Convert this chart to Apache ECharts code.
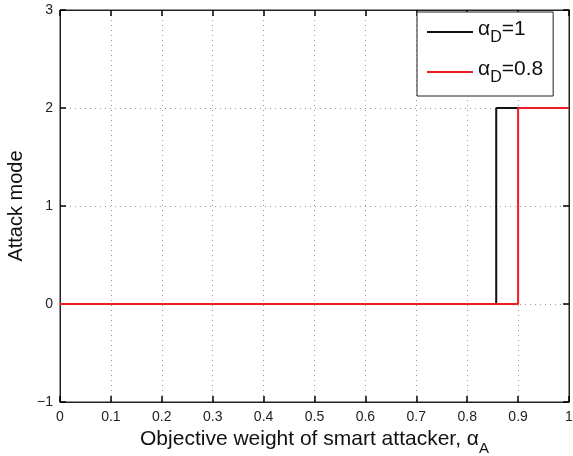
<!DOCTYPE html>
<html>
<head>
<meta charset="utf-8">
<script src="https://cdn.jsdelivr.net/npm/echarts@6/dist/echarts.min.js"></script>
<style>
  html, body { margin: 0; padding: 0; background: #fff; }
  #chart { width: 573px; height: 456px; }
</style>
</head>
<body>
<div id="chart"></div>
<script>
  // step curves: attack mode vs objective weight
  let blackX = [0, 0.857, 0.857, 1]
  let blackY = [0, 0, 2, 2]
  let redX = [0, 0.9, 0.9, 1]
  let redY = [0, 0, 2, 2]
  let xTicks = [0, 0.1, 0.2, 0.3, 0.4, 0.5, 0.6, 0.7, 0.8, 0.9, 1]
  let yTicks = [-1, 0, 1, 2, 3]

  function pairs(xs, ys) {
    return xs.map(function (x, i) { return [x, ys[i]] })
  }

  let chart = echarts.init(document.getElementById('chart'))
  let font = 'Liberation Sans, Arial, sans-serif'
  function gridLine() { return { show: true, lineStyle: { color: '#9a9a9a', type: [1, 4], width: 1 } } }
  function tick() { return { show: true, inside: true, length: 6, lineStyle: { color: '#000', width: 1.5 } } }
  function line() { return { show: true, onZero: false, lineStyle: { color: '#222', width: 1 } } }

  let option = {
    animation: false,
    grid: {
      left: 60, top: 10, right: 4, bottom: 54,
      outerBoundsMode: 'none', containLabel: false,
      show: true, borderColor: '#222', borderWidth: 1
    },
    legend: {
      left: 417, top: 12,
      orient: 'vertical',
      backgroundColor: '#fff',
      borderColor: '#222', borderWidth: 1,
      padding: [6, 10, 10, 10],
      itemWidth: 46, itemHeight: 2, itemGap: 12,
      icon: 'rect',
      data: ['a1', 'a08'],
      formatter: function (name) {
        return name === 'a1' ? '{a|α}{s|D}{a|=1}' : '{a|α}{s|D}{a|=0.8}'
      },
      textStyle: {
        fontFamily: font, color: '#111',
        rich: {
          a: { fontSize: 21, fontFamily: font, lineHeight: 32, padding: [0, 0, 6, 0] },
          s: { fontSize: 16, fontFamily: font, lineHeight: 32, padding: [12, 0, 0, 0] }
        }
      }
    },
    xAxis: [{
      type: 'value', min: 0, max: 1, interval: 0.1,
      position: 'bottom',
      name: '{t|Objective weight of smart attacker, α}{s|A}',
      nameLocation: 'middle', nameGap: 22,
      nameTextStyle: {
        rich: {
          t: { fontSize: 21, fontFamily: font, color: '#111', padding: [0, 0, 6, 0] },
          s: { fontSize: 15, fontFamily: font, color: '#111', padding: [12, 0, 0, 0] }
        }
      },
      axisLine: line(),
      axisTick: tick(),
      splitLine: gridLine(),
      axisLabel: {
        fontSize: 14, fontFamily: font, color: '#222', margin: 8,
        formatter: function (v) { return xTicks.indexOf(v) >= 0 ? String(v) : '' }
      }
    }, {
      type: 'value', min: 0, max: 1, interval: 0.1, position: 'top',
      axisLine: line(),
      axisTick: tick(), axisLabel: { show: false }, splitLine: { show: false }
    }],
    yAxis: [{
      type: 'value', min: -1, max: 3, interval: 1,
      position: 'left',
      name: 'Attack mode',
      nameLocation: 'middle', nameGap: 30,
      nameTextStyle: { fontSize: 20, fontFamily: font, color: '#111' },
      axisLine: line(),
      axisTick: tick(),
      splitLine: gridLine(),
      axisLabel: {
        fontSize: 14, fontFamily: font, color: '#222', margin: 7,
        formatter: function (v) { return yTicks.indexOf(v) >= 0 ? String(v).replace('-', '\u2212') : '' }
      }
    }, {
      type: 'value', min: -1, max: 3, interval: 1, position: 'right',
      axisLine: line(),
      axisTick: tick(), axisLabel: { show: false }, splitLine: { show: false }
    }],
    series: [{
      name: 'a1', type: 'line',
      data: pairs(blackX, blackY),
      showSymbol: false, symbol: 'none',
      itemStyle: { color: '#111' },
      lineStyle: { color: '#111', width: 2 },
      z: 2
    }, {
      name: 'a08', type: 'line',
      data: pairs(redX, redY),
      showSymbol: false, symbol: 'none',
      itemStyle: { color: '#ee1c24' },
      lineStyle: { color: '#ee1c24', width: 2 },
      z: 3
    }]
  }

  chart.setOption(option)
  window.addEventListener('resize', function () {
    chart.resize()
  })
</script>
</body>
</html>
